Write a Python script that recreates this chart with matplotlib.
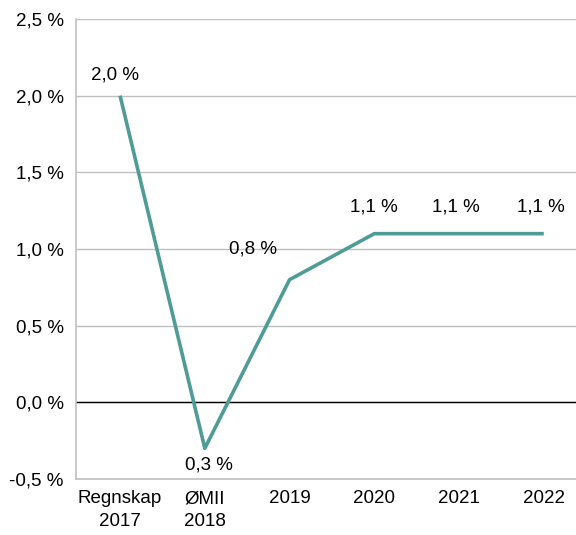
import matplotlib
matplotlib.use("Agg")
import matplotlib.pyplot as plt

plt.rcParams['font.family'] = ['Liberation Sans', 'DejaVu Sans']

categories = ["Regnskap\n2017", "ØMII\n2018", "2019", "2020", "2021", "2022"]
values = [2.0, -0.3, 0.8, 1.1, 1.1, 1.1]
point_labels = ["2,0 %", "0,3 %", "0,8 %", "1,1 %", "1,1 %", "1,1 %"]
yticks = [-0.5, 0.0, 0.5, 1.0, 1.5, 2.0, 2.5]
ytick_labels = ["-0,5 %", "0,0 %", "0,5 %", "1,0 %", "1,5 %", "2,0 %", "2,5 %"]

# offsets (points) for each data label
offsets = [(-4, 15), (3, -12), (-26, 22), (0, 19), (-2, 19), (-2, 19)]

fig = plt.figure(figsize=(5.76, 5.35), dpi=100)
ax = fig.add_axes([76 / 576, 1 - 479 / 535, 1 - 76 / 576, (479 - 19) / 535])

x = list(range(len(categories)))
ax.plot(x, values, color="#4f9c96", linewidth=2.6, solid_capstyle="butt", zorder=3)

for i, (v, lab) in enumerate(zip(values, point_labels)):
    ax.annotate(lab, (i, v), xytext=offsets[i], textcoords="offset points",
                ha="center", va="center", fontsize=13.5)

ax.set_ylim(-0.5, 2.5)
ax.set_xlim(-0.52, 5.38)
ax.set_yticks(yticks)
ax.set_yticklabels(ytick_labels, fontsize=13.5)
ax.set_xticks(x)
ax.set_xticklabels(categories, fontsize=13.5, linespacing=1.45)
ax.tick_params(axis="y", length=0, pad=9)
ax.tick_params(axis="x", length=0, pad=8)

ax.grid(axis="y", color="#c0c0c0", linewidth=1)
ax.axhline(0, color="black", linewidth=1, zorder=2)
for s in ["top", "right"]:
    ax.spines[s].set_visible(False)
for s in ["left", "bottom"]:
    ax.spines[s].set_color("#c0c0c0")
    ax.spines[s].set_linewidth(1.2)
ax.set_axisbelow(True)

fig.savefig("out.png", dpi=100)
